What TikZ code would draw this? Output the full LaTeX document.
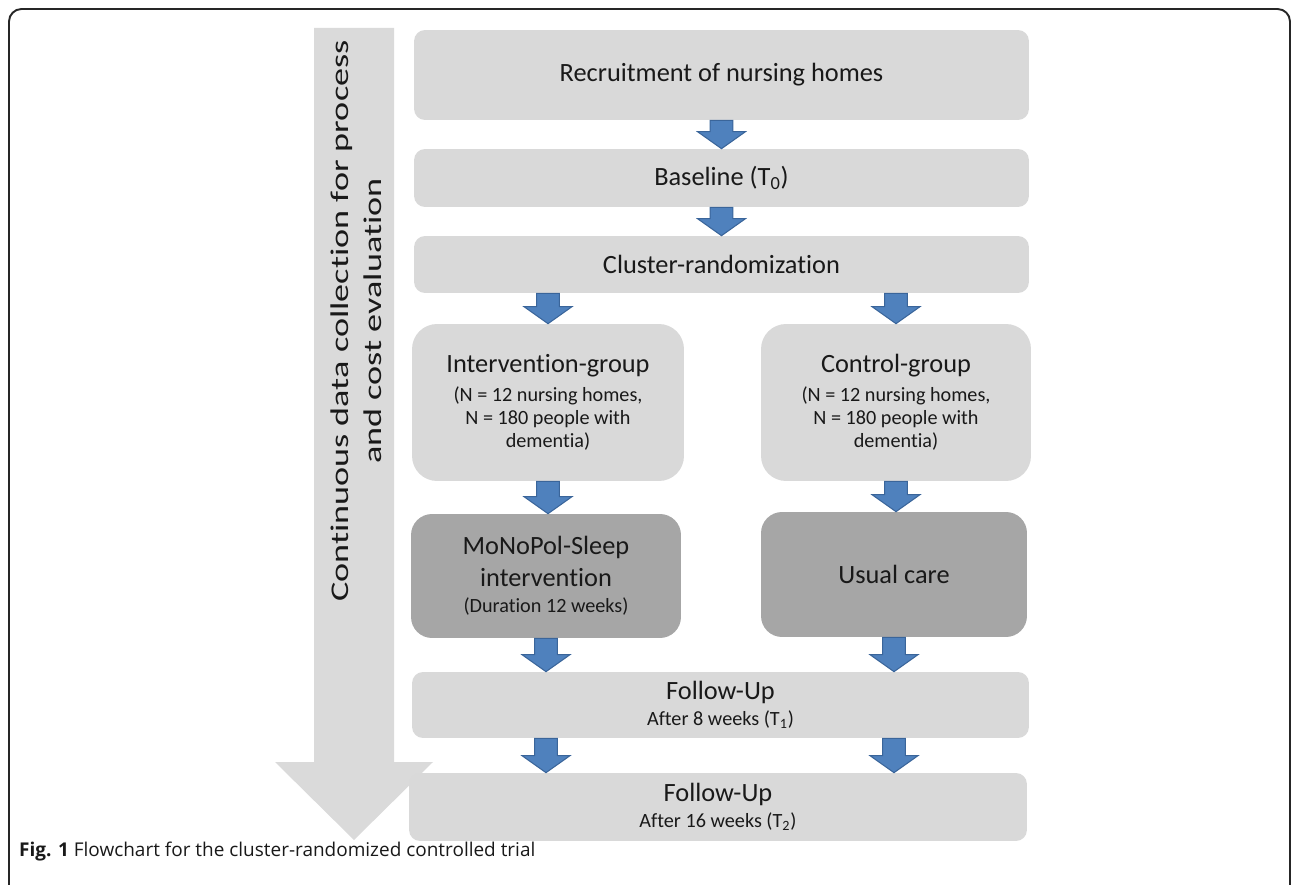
\documentclass[tikz,border=0pt]{standalone}
\usepackage{fontspec}
\setmainfont{Carlito}[Ligatures=NoCommon]
\newfontfamily\capfont{Open Sans}
\newfontfamily\sidefont{Carlito}[FakeStretch=1.42, Ligatures=NoCommon]
\usetikzlibrary{calc}
\definecolor{boxgray}{HTML}{D9D9D9}
\definecolor{boxdark}{HTML}{A6A6A6}
\definecolor{sidegray}{HTML}{DADADA}
\definecolor{arrowblue}{HTML}{4F81BD}
\definecolor{arrowedge}{HTML}{3A659A}
\def\bigtext{\fontsize{15}{18}\selectfont}
\def\smalltext{\fontsize{11.5}{13.2}\selectfont}
\tikzset{
  lightbox/.style={fill=boxgray, rounded corners=0.22cm, align=center, inner sep=0pt, text=black!90, font=\bigtext},
  groupbox/.style={lightbox, rounded corners=0.5cm, font=\smalltext},
  darkbox/.style={lightbox, fill=boxdark, rounded corners=0.42cm},
  blockarrow/.style={fill=arrowblue, draw=arrowedge, line width=0.6pt,
    to path={let \p1=(\tikztostart), \p2=(\tikztotarget) in
      (\x1-6.5pt,\y1) -- (\x1-6.5pt,\y2+9.7pt) -- (\x1-13.7pt,\y2+9.7pt) -- (\x1,\y2)
      -- (\x1+13.7pt,\y2+9.7pt) -- (\x1+6.5pt,\y2+9.7pt) -- (\x1+6.5pt,\y1) -- cycle}}
}
\begin{document}
\begin{tikzpicture}[x=0.02cm,y=-0.02cm]
\useasboundingbox (0,0) rectangle (1292,885);
\draw[line width=1.1pt, rounded corners=0.25cm, color=black!85] (9,885) -- (9,9) -- (1290,9) -- (1290,885);
% side arrow
\fill[sidegray] (314,28) -- (394,28) -- (394,762) -- (433,762) -- (354,840) -- (275,762) -- (314,762) -- cycle;
\node[rotate=90, align=center, text=black!90, font=\sidefont\fontsize{14.5}{18.5}\selectfont] (side) at (356,321)
  {Continuous data collection for process\\and cost evaluation};

\node[lightbox, minimum width=12.3cm, minimum height=1.8cm] (rec) at (721.5,75) {Recruitment of nursing homes};
\node[lightbox, minimum width=12.3cm, minimum height=1.16cm] (base) at (721.5,178) {Baseline (T\textsubscript{0})};
\node[lightbox, minimum width=12.3cm, minimum height=1.14cm] (clu) at (721.5,264.5) {Cluster-randomization};
\node[groupbox, minimum width=5.44cm, minimum height=3.14cm] (ig) at (548,402.5)
  {{\bigtext Intervention-group}\\[3pt](N = 12 nursing homes,\\N = 180 people with\\dementia)};
\node[groupbox, minimum width=5.4cm, minimum height=3.14cm] (cg) at (896,402.5)
  {{\bigtext Control-group}\\[3pt](N = 12 nursing homes,\\N = 180 people with\\dementia)};
\node[darkbox, minimum width=5.4cm, minimum height=2.48cm, font=\fontsize{15}{18}\selectfont] (mono) at (546,576)
  {MoNoPol-Sleep\\intervention\\[-3pt]{\smalltext (Duration 12 weeks)}};
\node[darkbox, minimum width=5.32cm, minimum height=2.5cm] (uc) at (894,574.5) {Usual care};
\node[lightbox, minimum width=12.34cm, minimum height=1.32cm] (fu1) at (720.5,705)
  {Follow-Up\\[-3pt]{\smalltext After 8 weeks (T\textsubscript{1})}};
\node[lightbox, minimum width=12.36cm, minimum height=1.36cm] (fu2) at (718,807)
  {Follow-Up\\[-3pt]{\smalltext After 16 weeks (T\textsubscript{2})}};

\draw[blockarrow] (rec.south) to (base.north);
\draw[blockarrow] (base.south) to (clu.north);
\draw[blockarrow] (clu.south -| ig.north) to (ig.north);
\draw[blockarrow] (clu.south -| cg.north) to (cg.north);
\draw[blockarrow] (ig.south) to (mono.north -| ig.south);
\draw[blockarrow] (cg.south) to (uc.north -| cg.south);
\draw[blockarrow] (mono.south) to (fu1.north -| mono.south);
\draw[blockarrow] (uc.south) to (fu1.north -| uc.south);
\draw[blockarrow] (fu1.south -| mono.south) to (fu2.north -| mono.south);
\draw[blockarrow] (fu1.south -| uc.south) to (fu2.north -| uc.south);

\node[anchor=west, text=black!90, font=\capfont\fontsize{10.8}{13}\selectfont] (cap) at (13,852)
  {\textbf{Fig. 1} Flowchart for the cluster-randomized controlled trial};
\end{tikzpicture}
\end{document}
